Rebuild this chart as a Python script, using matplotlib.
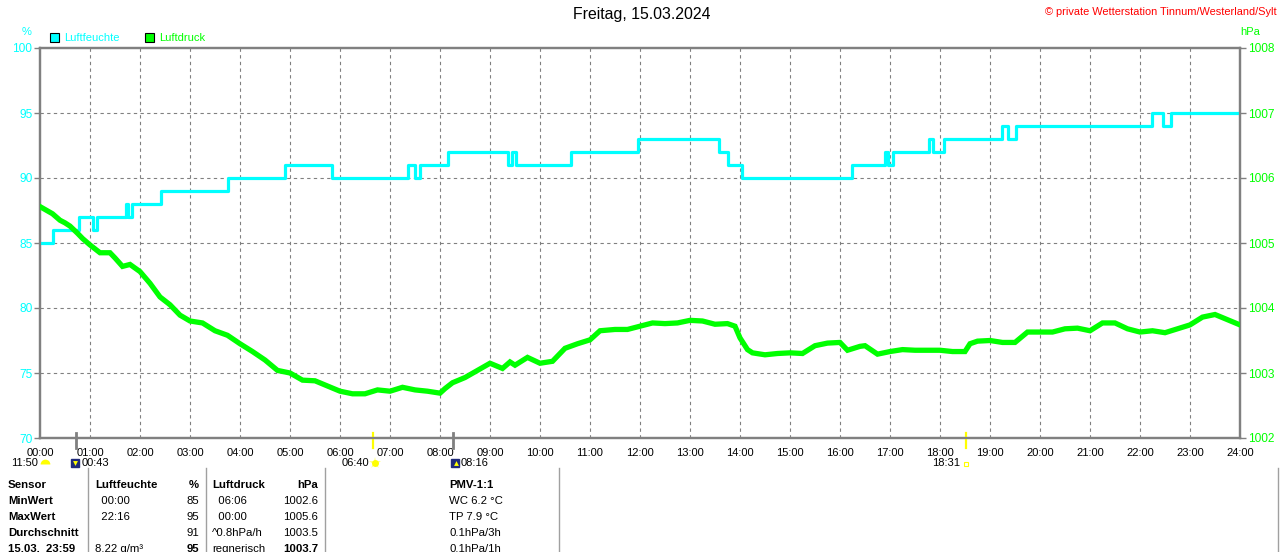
import matplotlib
matplotlib.use("Agg")
import matplotlib.pyplot as plt
from matplotlib.lines import Line2D
from matplotlib.transforms import blended_transform_factory

plt.rcParams['font.family'] = ['Liberation Sans', 'DejaVu Sans']

W, H = 1280, 552

title = "Freitag, 15.03.2024"
copyright_text = "© private Wetterstation Tinnum/Westerland/Sylt"
legend_labels = ["Luftfeuchte", "Luftdruck"]

# Humidity (%), step changes
hum_times = ["00:00", "00:15", "00:47", "01:03", "01:08", "01:43", "01:46", "01:50",
             "02:25", "03:46", "04:54", "05:50", "07:22", "07:30", "07:36", "08:10",
             "09:22", "09:26", "09:31", "10:37", "11:57", "13:35", "13:45", "14:02",
             "16:14", "16:54", "16:58", "17:03", "17:47", "17:51", "18:05", "19:14",
             "19:22", "19:31", "22:14", "22:28", "22:37", "24:00"]
hum_values = [85, 86, 87, 86, 87, 88, 87, 88,
              89, 90, 91, 90, 91, 90, 91, 92,
              91, 92, 91, 92, 93, 92, 91, 90,
              91, 92, 91, 92, 93, 92, 93, 94,
              93, 94, 95, 94, 95, 95]

# Air pressure (hPa)
press_times = ["00:00", "00:15", "00:24", "00:30", "00:36", "00:45", "00:51", "01:00",
               "01:12", "01:24", "01:30", "01:39", "01:48", "02:00", "02:12", "02:24",
               "02:36", "02:48", "03:00", "03:15", "03:30", "03:45", "04:00", "04:15",
               "04:30", "04:45", "05:00", "05:15", "05:30", "05:45", "06:00", "06:15",
               "06:30", "06:45", "07:00", "07:15", "07:30", "07:45", "08:00", "08:06",
               "08:15", "08:30", "08:45", "09:00", "09:15", "09:24", "09:30", "09:45",
               "10:00", "10:15", "10:30", "10:45", "11:00", "11:12", "11:30", "11:45",
               "12:00", "12:15", "12:30", "12:45", "13:00", "13:15", "13:30", "13:45",
               "13:54", "14:00", "14:09", "14:15", "14:30", "14:45", "15:00", "15:15",
               "15:30", "15:45", "16:00", "16:09", "16:24", "16:30", "16:45", "17:00",
               "17:15", "17:30", "17:45", "18:00", "18:15", "18:30", "18:36", "18:45",
               "19:00", "19:15", "19:30", "19:45", "20:00", "20:15", "20:30", "20:45",
               "21:00", "21:15", "21:30", "21:45", "22:00", "22:15", "22:30", "22:45",
               "23:00", "23:15", "23:30", "23:45", "24:00"]
press_values = [1005.56, 1005.45, 1005.35, 1005.31, 1005.26, 1005.15, 1005.07, 1004.97,
                1004.85, 1004.85, 1004.77, 1004.64, 1004.67, 1004.56, 1004.38, 1004.17,
                1004.05, 1003.89, 1003.80, 1003.77, 1003.65, 1003.58, 1003.45, 1003.33,
                1003.20, 1003.04, 1003.00, 1002.89, 1002.88, 1002.80, 1002.72, 1002.68,
                1002.68, 1002.74, 1002.72, 1002.78, 1002.74, 1002.72, 1002.69, 1002.76,
                1002.85, 1002.93, 1003.04, 1003.15, 1003.07, 1003.17, 1003.12, 1003.24,
                1003.15, 1003.18, 1003.38, 1003.45, 1003.51, 1003.65, 1003.67, 1003.67,
                1003.72, 1003.77, 1003.76, 1003.77, 1003.81, 1003.80, 1003.75, 1003.76,
                1003.72, 1003.54, 1003.36, 1003.31, 1003.28, 1003.30, 1003.31, 1003.30,
                1003.42, 1003.46, 1003.47, 1003.35, 1003.41, 1003.42, 1003.29, 1003.33,
                1003.36, 1003.35, 1003.35, 1003.35, 1003.33, 1003.33, 1003.45, 1003.49,
                1003.50, 1003.47, 1003.47, 1003.63, 1003.63, 1003.63, 1003.68, 1003.69,
                1003.65, 1003.77, 1003.77, 1003.68, 1003.63, 1003.65, 1003.62, 1003.68,
                1003.74, 1003.86, 1003.90, 1003.82, 1003.74]

hour_labels = ["%02d:00" % h for h in range(25)]
hum_ticks = [70, 75, 80, 85, 90, 95, 100]
press_ticks = [1002, 1003, 1004, 1005, 1006, 1007, 1008]

# Astronomical events: label, time
event_labels = ["11:50", "00:43", "06:40", "08:16", "18:31"]
event_lines = ["00:43", "06:40", "08:16", "18:31"]
event_line_colors = ["#808080", "#FFFF00", "#808080", "#FFFF00"]

# Table
table_col1 = ["Sensor", "MinWert", "MaxWert", "Durchschnitt", "15.03.  23:59"]
table_col2 = ["Luftfeuchte", "  00:00", "  22:16", "", "8.22 g/m³"]
table_col3 = ["%", "85", "95", "91", "95"]
table_col4 = ["Luftdruck", "  06:06", "  00:00", "^0.8hPa/h", "regnerisch"]
table_col5 = ["hPa", "1002.6", "1005.6", "1003.5", "1003.7"]
table_col6 = ["PMV-1:1", "WC 6.2 °C", "TP 7.9 °C", "0.1hPa/3h", "0.1hPa/1h"]


def hours(s):
    h, m = s.split(":")
    return int(h) + int(m) / 60.0


def fx(x):
    return x / W


def fy(y):
    return 1 - y / H


fig = plt.figure(figsize=(W / 100, H / 100), dpi=100)
fig.patch.set_facecolor("white")

L, R, T, B = 40, 1240, 48, 438
ax = fig.add_axes([L / W, 1 - B / H, (R - L) / W, (B - T) / H])
ax2 = ax.twinx()

CYAN = "#00FFFF"
GREEN = "#00FF00"
GRAY = "#808080"

ax.set_xlim(0, 24)
ax.set_ylim(70, 100)
ax2.set_ylim(1002, 1008)

for h in range(1, 24):
    ax.axvline(h, color=GRAY, lw=0.8, ls=(0, (3, 3)), zorder=1)
for v in hum_ticks[1:-1]:
    ax.axhline(v, color=GRAY, lw=0.8, ls=(0, (3, 3)), zorder=1)

ax.plot([hours(t) for t in hum_times], hum_values, drawstyle="steps-post",
        color=CYAN, lw=2.3, zorder=3)
ax2.plot([hours(t) for t in press_times], press_values, color=GREEN, lw=3.8,
         zorder=3, solid_joinstyle="miter")

ax.set_xticks(range(25))
ax.set_xticklabels(hour_labels)
ax.tick_params(axis="x", length=0, pad=7, labelsize=8, labelcolor="black")
ax.set_yticks(hum_ticks)
ax.tick_params(axis="y", length=4.5, width=1, color=GRAY, labelcolor=CYAN,
               labelsize=8.6, pad=1)
ax2.set_yticks(press_ticks)
ax2.tick_params(axis="y", length=4.5, width=1, color=GRAY, labelcolor=GREEN,
                labelsize=8.6, pad=1)

for a in (ax, ax2):
    for s in a.spines.values():
        s.set_color(GRAY)
        s.set_linewidth(1.6)

# event markers on the time axis
trans = blended_transform_factory(ax.transData, ax.transAxes)
for t, c in zip(event_lines, event_line_colors):
    ax.plot([hours(t), hours(t)], [-0.026, 0.013], transform=trans,
            clip_on=False, color=c, lw=2.0 if c == GRAY else 1.6, zorder=5)

# texts
fig.text(fx(642), fy(15), title, ha="center", va="center", fontsize=11.4, color="black")
fig.text(fx(1277), fy(12), copyright_text, ha="right", va="center", fontsize=7.9,
         color="#FF0000")
fig.text(fx(27), fy(32), "%", ha="center", va="center", fontsize=8, color=CYAN)
fig.text(fx(1250), fy(32), "hPa", ha="center", va="center", fontsize=8, color=GREEN)

# legend
for (x0, lbl, col) in [(50, legend_labels[0], CYAN), (145, legend_labels[1], GREEN)]:
    fig.add_artist(plt.Rectangle((fx(x0), fy(42)), 9 / W, 9 / H, transform=fig.transFigure,
                                 facecolor=col, edgecolor="black", lw=0.8))
    fig.text(fx(x0 + 14), fy(38), lbl, ha="left", va="center", fontsize=8, color=col)

# astronomical event labels
row_y = 463
fig.text(fx(38), fy(row_y), event_labels[0], ha="right", va="center", fontsize=8)
fig.add_artist(Line2D([fx(45)], [fy(row_y + 1)], marker="o", markersize=7,
                      fillstyle="top", markerfacecolor="#FFFF00",
                      markerfacecoloralt="none", markeredgewidth=0,
                      transform=fig.transFigure))
fig.text(fx(82), fy(row_y), event_labels[1], ha="left", va="center", fontsize=8)
fig.add_artist(Line2D([fx(75)], [fy(row_y)], marker="s", markersize=6,
                      markerfacecolor="#1F2A7A", markeredgecolor="#1F2A7A",
                      transform=fig.transFigure))
fig.add_artist(Line2D([fx(75)], [fy(row_y)], marker="v", markersize=3.5,
                      markerfacecolor="#FFFF00", markeredgewidth=0,
                      transform=fig.transFigure))
fig.text(fx(369), fy(row_y), event_labels[2], ha="right", va="center", fontsize=8)
fig.add_artist(Line2D([fx(375)], [fy(row_y)], marker="*", markersize=9,
                      markerfacecolor="#FFFF88", markeredgewidth=0,
                      transform=fig.transFigure))
fig.add_artist(Line2D([fx(375)], [fy(row_y)], marker="o", markersize=5,
                      markerfacecolor="#FFFF00", markeredgewidth=0,
                      transform=fig.transFigure))
fig.text(fx(461), fy(row_y), event_labels[3], ha="left", va="center", fontsize=8)
fig.add_artist(Line2D([fx(455)], [fy(row_y)], marker="s", markersize=6,
                      markerfacecolor="#1F2A7A", markeredgecolor="#1F2A7A",
                      transform=fig.transFigure))
fig.add_artist(Line2D([fx(456)], [fy(row_y)], marker="^", markersize=3.5,
                      markerfacecolor="#FFFF00", markeredgewidth=0,
                      transform=fig.transFigure))
fig.text(fx(960), fy(row_y), event_labels[4], ha="right", va="center", fontsize=8)
fig.add_artist(Line2D([fx(966)], [fy(row_y + 1)], marker="s", markersize=3.5,
                      markerfacecolor="white", markeredgecolor="#FFFF00",
                      markeredgewidth=0.8, transform=fig.transFigure))

# table separators
for x in [88, 206, 325, 559, 1278]:
    fig.add_artist(Line2D([fx(x), fx(x)], [fy(468), fy(552)], color="#A0A0A0",
                          lw=1.0, transform=fig.transFigure))

rows_y = [485, 501, 517, 533, 549]
for i, y in enumerate(rows_y):
    head = i == 0
    last = i == 4
    fig.text(fx(8), fy(y), table_col1[i], ha="left", va="center", fontsize=8.2,
             fontweight="bold")
    fig.text(fx(95), fy(y), table_col2[i], ha="left", va="center", fontsize=8.2,
             fontweight="bold" if head else "normal")
    fig.text(fx(199), fy(y), table_col3[i], ha="right", va="center", fontsize=8.2,
             fontweight="bold" if (head or last) else "normal")
    fig.text(fx(212), fy(y), table_col4[i], ha="left", va="center", fontsize=8.2,
             fontweight="bold" if head else "normal")
    fig.text(fx(318), fy(y), table_col5[i], ha="right", va="center", fontsize=8.2,
             fontweight="bold" if (head or last) else "normal")
    fig.text(fx(449), fy(y), table_col6[i], ha="left", va="center", fontsize=8.2,
             fontweight="bold" if head else "normal")

fig.savefig("out.png", dpi=100, facecolor="white")
